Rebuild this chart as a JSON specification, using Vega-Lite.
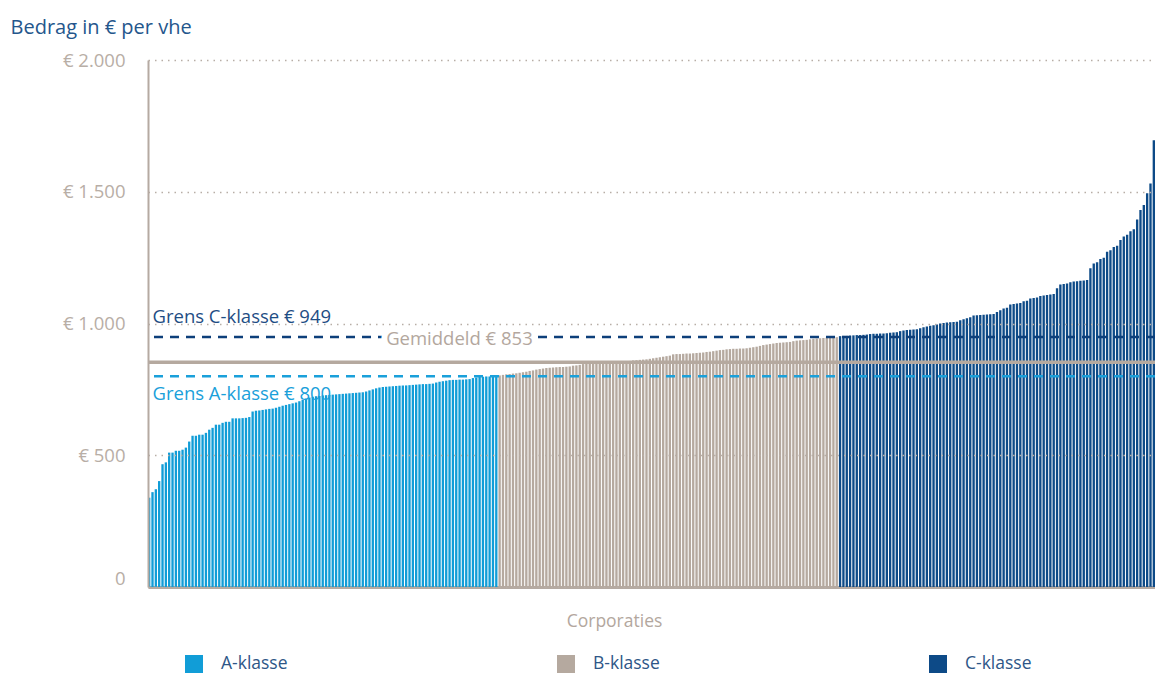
{
"$schema": "https://vega.github.io/schema/vega-lite/v6.json",
"autosize": "none",
"width": 1007,
"height": 527,
"padding": {"left": 148, "top": 60, "right": 0, "bottom": 86},
"background": "white",
"config": {"font": "Open Sans", "view": {"stroke": null}},
"datasets": {
"bars": [
{"c":0,"v":339,"k":"A-klasse"},{"c":1,"v":360,"k":"A-klasse"},{"c":2,"v":371,"k":"A-klasse"},{"c":3,"v":402,"k":"A-klasse"},{"c":4,"v":466,"k":"A-klasse"},{"c":5,"v":473,"k":"A-klasse"},{"c":6,"v":510,"k":"A-klasse"},{"c":7,"v":510,"k":"A-klasse"},{"c":8,"v":517,"k":"A-klasse"},{"c":9,"v":517,"k":"A-klasse"},
{"c":10,"v":521,"k":"A-klasse"},{"c":11,"v":529,"k":"A-klasse"},{"c":12,"v":552,"k":"A-klasse"},{"c":13,"v":574,"k":"A-klasse"},{"c":14,"v":574,"k":"A-klasse"},{"c":15,"v":578,"k":"A-klasse"},{"c":16,"v":578,"k":"A-klasse"},{"c":17,"v":585,"k":"A-klasse"},{"c":18,"v":597,"k":"A-klasse"},{"c":19,"v":604,"k":"A-klasse"},
{"c":20,"v":616,"k":"A-klasse"},{"c":21,"v":616,"k":"A-klasse"},{"c":22,"v":623,"k":"A-klasse"},{"c":23,"v":627,"k":"A-klasse"},{"c":24,"v":627,"k":"A-klasse"},{"c":25,"v":640,"k":"A-klasse"},{"c":26,"v":640,"k":"A-klasse"},{"c":27,"v":640,"k":"A-klasse"},{"c":28,"v":641,"k":"A-klasse"},{"c":29,"v":642,"k":"A-klasse"},
{"c":30,"v":645,"k":"A-klasse"},{"c":31,"v":666,"k":"A-klasse"},{"c":32,"v":669,"k":"A-klasse"},{"c":33,"v":670,"k":"A-klasse"},{"c":34,"v":672,"k":"A-klasse"},{"c":35,"v":674,"k":"A-klasse"},{"c":36,"v":676,"k":"A-klasse"},{"c":37,"v":677,"k":"A-klasse"},{"c":38,"v":680,"k":"A-klasse"},{"c":39,"v":684,"k":"A-klasse"},
{"c":40,"v":688,"k":"A-klasse"},{"c":41,"v":691,"k":"A-klasse"},{"c":42,"v":694,"k":"A-klasse"},{"c":43,"v":697,"k":"A-klasse"},{"c":44,"v":700,"k":"A-klasse"},{"c":45,"v":705,"k":"A-klasse"},{"c":46,"v":710,"k":"A-klasse"},{"c":47,"v":715,"k":"A-klasse"},{"c":48,"v":719,"k":"A-klasse"},{"c":49,"v":722,"k":"A-klasse"},
{"c":50,"v":724,"k":"A-klasse"},{"c":51,"v":725,"k":"A-klasse"},{"c":52,"v":727,"k":"A-klasse"},{"c":53,"v":728,"k":"A-klasse"},{"c":54,"v":729,"k":"A-klasse"},{"c":55,"v":730,"k":"A-klasse"},{"c":56,"v":731,"k":"A-klasse"},{"c":57,"v":732,"k":"A-klasse"},{"c":58,"v":733,"k":"A-klasse"},{"c":59,"v":734,"k":"A-klasse"},
{"c":60,"v":735,"k":"A-klasse"},{"c":61,"v":736,"k":"A-klasse"},{"c":62,"v":737,"k":"A-klasse"},{"c":63,"v":738,"k":"A-klasse"},{"c":64,"v":739,"k":"A-klasse"},{"c":65,"v":742,"k":"A-klasse"},{"c":66,"v":746,"k":"A-klasse"},{"c":67,"v":750,"k":"A-klasse"},{"c":68,"v":754,"k":"A-klasse"},{"c":69,"v":757,"k":"A-klasse"},
{"c":70,"v":759,"k":"A-klasse"},{"c":71,"v":760,"k":"A-klasse"},{"c":72,"v":761,"k":"A-klasse"},{"c":73,"v":762,"k":"A-klasse"},{"c":74,"v":763,"k":"A-klasse"},{"c":75,"v":764,"k":"A-klasse"},{"c":76,"v":765,"k":"A-klasse"},{"c":77,"v":765,"k":"A-klasse"},{"c":78,"v":766,"k":"A-klasse"},{"c":79,"v":767,"k":"A-klasse"},
{"c":80,"v":768,"k":"A-klasse"},{"c":81,"v":769,"k":"A-klasse"},{"c":82,"v":770,"k":"A-klasse"},{"c":83,"v":770,"k":"A-klasse"},{"c":84,"v":771,"k":"A-klasse"},{"c":85,"v":772,"k":"A-klasse"},{"c":86,"v":776,"k":"A-klasse"},{"c":87,"v":779,"k":"A-klasse"},{"c":88,"v":781,"k":"A-klasse"},{"c":89,"v":783,"k":"A-klasse"},
{"c":90,"v":785,"k":"A-klasse"},{"c":91,"v":786,"k":"A-klasse"},{"c":92,"v":786,"k":"A-klasse"},{"c":93,"v":787,"k":"A-klasse"},{"c":94,"v":787,"k":"A-klasse"},{"c":95,"v":788,"k":"A-klasse"},{"c":96,"v":789,"k":"A-klasse"},{"c":97,"v":793,"k":"A-klasse"},{"c":98,"v":795,"k":"A-klasse"},{"c":99,"v":797,"k":"A-klasse"},
{"c":100,"v":798,"k":"A-klasse"},{"c":101,"v":799,"k":"A-klasse"},{"c":102,"v":799,"k":"A-klasse"},{"c":103,"v":800,"k":"A-klasse"},{"c":104,"v":800,"k":"A-klasse"},
{"c":105,"v":803,"k":"B-klasse"},{"c":106,"v":805,"k":"B-klasse"},{"c":107,"v":807,"k":"B-klasse"},{"c":108,"v":808,"k":"B-klasse"},{"c":109,"v":810,"k":"B-klasse"},
{"c":110,"v":811,"k":"B-klasse"},{"c":111,"v":813,"k":"B-klasse"},{"c":112,"v":815,"k":"B-klasse"},{"c":113,"v":817,"k":"B-klasse"},{"c":114,"v":820,"k":"B-klasse"},{"c":115,"v":822,"k":"B-klasse"},{"c":116,"v":825,"k":"B-klasse"},{"c":117,"v":827,"k":"B-klasse"},{"c":118,"v":829,"k":"B-klasse"},{"c":119,"v":831,"k":"B-klasse"},
{"c":120,"v":832,"k":"B-klasse"},{"c":121,"v":833,"k":"B-klasse"},{"c":122,"v":834,"k":"B-klasse"},{"c":123,"v":835,"k":"B-klasse"},{"c":124,"v":835,"k":"B-klasse"},{"c":125,"v":836,"k":"B-klasse"},{"c":126,"v":837,"k":"B-klasse"},{"c":127,"v":840,"k":"B-klasse"},{"c":128,"v":841,"k":"B-klasse"},{"c":129,"v":843,"k":"B-klasse"},
{"c":130,"v":846,"k":"B-klasse"},{"c":131,"v":848,"k":"B-klasse"},{"c":132,"v":849,"k":"B-klasse"},{"c":133,"v":851,"k":"B-klasse"},{"c":134,"v":853,"k":"B-klasse"},{"c":135,"v":853,"k":"B-klasse"},{"c":136,"v":854,"k":"B-klasse"},{"c":137,"v":854,"k":"B-klasse"},{"c":138,"v":855,"k":"B-klasse"},{"c":139,"v":855,"k":"B-klasse"},
{"c":140,"v":856,"k":"B-klasse"},{"c":141,"v":856,"k":"B-klasse"},{"c":142,"v":857,"k":"B-klasse"},{"c":143,"v":857,"k":"B-klasse"},{"c":144,"v":858,"k":"B-klasse"},{"c":145,"v":860,"k":"B-klasse"},{"c":146,"v":861,"k":"B-klasse"},{"c":147,"v":862,"k":"B-klasse"},{"c":148,"v":863,"k":"B-klasse"},{"c":149,"v":864,"k":"B-klasse"},
{"c":150,"v":866,"k":"B-klasse"},{"c":151,"v":868,"k":"B-klasse"},{"c":152,"v":870,"k":"B-klasse"},{"c":153,"v":872,"k":"B-klasse"},{"c":154,"v":874,"k":"B-klasse"},{"c":155,"v":876,"k":"B-klasse"},{"c":156,"v":878,"k":"B-klasse"},{"c":157,"v":883,"k":"B-klasse"},{"c":158,"v":884,"k":"B-klasse"},{"c":159,"v":884,"k":"B-klasse"},
{"c":160,"v":885,"k":"B-klasse"},{"c":161,"v":886,"k":"B-klasse"},{"c":162,"v":886,"k":"B-klasse"},{"c":163,"v":887,"k":"B-klasse"},{"c":164,"v":888,"k":"B-klasse"},{"c":165,"v":889,"k":"B-klasse"},{"c":166,"v":890,"k":"B-klasse"},{"c":167,"v":892,"k":"B-klasse"},{"c":168,"v":893,"k":"B-klasse"},{"c":169,"v":895,"k":"B-klasse"},
{"c":170,"v":897,"k":"B-klasse"},{"c":171,"v":899,"k":"B-klasse"},{"c":172,"v":900,"k":"B-klasse"},{"c":173,"v":902,"k":"B-klasse"},{"c":174,"v":903,"k":"B-klasse"},{"c":175,"v":904,"k":"B-klasse"},{"c":176,"v":904,"k":"B-klasse"},{"c":177,"v":905,"k":"B-klasse"},{"c":178,"v":905,"k":"B-klasse"},{"c":179,"v":906,"k":"B-klasse"},
{"c":180,"v":908,"k":"B-klasse"},{"c":181,"v":910,"k":"B-klasse"},{"c":182,"v":912,"k":"B-klasse"},{"c":183,"v":915,"k":"B-klasse"},{"c":184,"v":918,"k":"B-klasse"},{"c":185,"v":920,"k":"B-klasse"},{"c":186,"v":922,"k":"B-klasse"},{"c":187,"v":924,"k":"B-klasse"},{"c":188,"v":926,"k":"B-klasse"},{"c":189,"v":927,"k":"B-klasse"},
{"c":190,"v":928,"k":"B-klasse"},{"c":191,"v":929,"k":"B-klasse"},{"c":192,"v":930,"k":"B-klasse"},{"c":193,"v":933,"k":"B-klasse"},{"c":194,"v":935,"k":"B-klasse"},{"c":195,"v":936,"k":"B-klasse"},{"c":196,"v":937,"k":"B-klasse"},{"c":197,"v":938,"k":"B-klasse"},{"c":198,"v":940,"k":"B-klasse"},{"c":199,"v":942,"k":"B-klasse"},
{"c":200,"v":943,"k":"B-klasse"},{"c":201,"v":944,"k":"B-klasse"},{"c":202,"v":945,"k":"B-klasse"},{"c":203,"v":946,"k":"B-klasse"},{"c":204,"v":946,"k":"B-klasse"},{"c":205,"v":947,"k":"B-klasse"},{"c":206,"v":948,"k":"B-klasse"},
{"c":207,"v":952,"k":"C-klasse"},{"c":208,"v":953,"k":"C-klasse"},{"c":209,"v":953,"k":"C-klasse"},
{"c":210,"v":954,"k":"C-klasse"},{"c":211,"v":955,"k":"C-klasse"},{"c":212,"v":956,"k":"C-klasse"},{"c":213,"v":956,"k":"C-klasse"},{"c":214,"v":957,"k":"C-klasse"},{"c":215,"v":958,"k":"C-klasse"},{"c":216,"v":960,"k":"C-klasse"},{"c":217,"v":961,"k":"C-klasse"},{"c":218,"v":961,"k":"C-klasse"},{"c":219,"v":962,"k":"C-klasse"},
{"c":220,"v":962,"k":"C-klasse"},{"c":221,"v":963,"k":"C-klasse"},{"c":222,"v":965,"k":"C-klasse"},{"c":223,"v":966,"k":"C-klasse"},{"c":224,"v":967,"k":"C-klasse"},{"c":225,"v":971,"k":"C-klasse"},{"c":226,"v":973,"k":"C-klasse"},{"c":227,"v":975,"k":"C-klasse"},{"c":228,"v":976,"k":"C-klasse"},{"c":229,"v":977,"k":"C-klasse"},
{"c":230,"v":978,"k":"C-klasse"},{"c":231,"v":982,"k":"C-klasse"},{"c":232,"v":986,"k":"C-klasse"},{"c":233,"v":989,"k":"C-klasse"},{"c":234,"v":991,"k":"C-klasse"},{"c":235,"v":993,"k":"C-klasse"},{"c":236,"v":996,"k":"C-klasse"},{"c":237,"v":1000,"k":"C-klasse"},{"c":238,"v":1002,"k":"C-klasse"},{"c":239,"v":1004,"k":"C-klasse"},
{"c":240,"v":1005,"k":"C-klasse"},{"c":241,"v":1006,"k":"C-klasse"},{"c":242,"v":1007,"k":"C-klasse"},{"c":243,"v":1012,"k":"C-klasse"},{"c":244,"v":1016,"k":"C-klasse"},{"c":245,"v":1020,"k":"C-klasse"},{"c":246,"v":1024,"k":"C-klasse"},{"c":247,"v":1030,"k":"C-klasse"},{"c":248,"v":1031,"k":"C-klasse"},{"c":249,"v":1032,"k":"C-klasse"},
{"c":250,"v":1033,"k":"C-klasse"},{"c":251,"v":1034,"k":"C-klasse"},{"c":252,"v":1035,"k":"C-klasse"},{"c":253,"v":1036,"k":"C-klasse"},{"c":254,"v":1044,"k":"C-klasse"},{"c":255,"v":1050,"k":"C-klasse"},{"c":256,"v":1057,"k":"C-klasse"},{"c":257,"v":1060,"k":"C-klasse"},{"c":258,"v":1072,"k":"C-klasse"},{"c":259,"v":1074,"k":"C-klasse"},
{"c":260,"v":1076,"k":"C-klasse"},{"c":261,"v":1078,"k":"C-klasse"},{"c":262,"v":1084,"k":"C-klasse"},{"c":263,"v":1086,"k":"C-klasse"},{"c":264,"v":1095,"k":"C-klasse"},{"c":265,"v":1097,"k":"C-klasse"},{"c":266,"v":1099,"k":"C-klasse"},{"c":267,"v":1104,"k":"C-klasse"},{"c":268,"v":1106,"k":"C-klasse"},{"c":269,"v":1108,"k":"C-klasse"},
{"c":270,"v":1110,"k":"C-klasse"},{"c":271,"v":1112,"k":"C-klasse"},{"c":272,"v":1134,"k":"C-klasse"},{"c":273,"v":1148,"k":"C-klasse"},{"c":274,"v":1150,"k":"C-klasse"},{"c":275,"v":1152,"k":"C-klasse"},{"c":276,"v":1157,"k":"C-klasse"},{"c":277,"v":1159,"k":"C-klasse"},{"c":278,"v":1160,"k":"C-klasse"},{"c":279,"v":1162,"k":"C-klasse"},
{"c":280,"v":1163,"k":"C-klasse"},{"c":281,"v":1165,"k":"C-klasse"},{"c":282,"v":1210,"k":"C-klasse"},{"c":283,"v":1228,"k":"C-klasse"},{"c":284,"v":1232,"k":"C-klasse"},{"c":285,"v":1245,"k":"C-klasse"},{"c":286,"v":1250,"k":"C-klasse"},{"c":287,"v":1272,"k":"C-klasse"},{"c":288,"v":1278,"k":"C-klasse"},{"c":289,"v":1290,"k":"C-klasse"},
{"c":290,"v":1295,"k":"C-klasse"},{"c":291,"v":1317,"k":"C-klasse"},{"c":292,"v":1330,"k":"C-klasse"},{"c":293,"v":1337,"k":"C-klasse"},{"c":294,"v":1350,"k":"C-klasse"},{"c":295,"v":1358,"k":"C-klasse"},{"c":296,"v":1395,"k":"C-klasse"},{"c":297,"v":1431,"k":"C-klasse"},{"c":298,"v":1450,"k":"C-klasse"},{"c":299,"v":1494,"k":"C-klasse"},
{"c":300,"v":1531,"k":"C-klasse"},{"c":301,"v":1695,"k":"C-klasse"}
]
},
"encoding": {
"y": {"field": "v", "type": "quantitative",
"scale": {"domain": [0, 2000], "nice": false},
"axis": {"values": [0, 500, 1000, 1500, 2000], "zindex": 1,
"labelExpr": "datum.value == 0 ? '0' : '€ ' + replace(format(datum.value, ','), ',', '.')",
"labelFontSize": 18.5, "labelFontWeight": "normal", "labelColor": "#b8aea6", "labelPadding": 23,
"labelOffset": {"condition": {"test": "datum.value == 0", "value": -9}, "value": 0},
"ticks": false, "domain": true, "domainColor": "#b5aaa2", "domainWidth": 2,
"grid": true, "gridColor": "#b8aea6", "gridDash": [1.5, 5], "gridWidth": 1.5,
"title": "Bedrag in € per vhe", "titleAngle": 0, "titleX": -138, "titleY": -33,
"titleAlign": "left", "titleBaseline": "middle", "titleFontSize": 20, "titleFontWeight": "normal", "titleColor": "#24568c"}}
},
"layer": [
{
"data": {"name": "bars"},
"mark": {"type": "bar"},
"encoding": {
"x": {"field": "c", "type": "ordinal", "sort": "ascending",
"scale": {"paddingInner": 0.3, "paddingOuter": 0},
"axis": {"labels": false, "ticks": false, "domain": true, "domainColor": "#b5aaa2", "domainWidth": 3,
"title": "Corporaties", "titleFontSize": 17.5, "titleFontWeight": "normal", "titleColor": "#b3a79e",
"titleX": 466, "titleY": 34, "titleBaseline": "middle", "titleAnchor": "start", "titleAlign": "center", "grid": false}},
"color": {"field": "k", "type": "nominal",
"scale": {"domain": ["A-klasse", "B-klasse", "C-klasse"], "range": ["#119dd7", "#b5a99f", "#0d4a87"]},
"legend": {"orient": "none", "legendX": 37, "legendY": 595, "direction": "horizontal", "title": null,
"symbolType": "square", "symbolSize": 324, "symbolStrokeWidth": 0, "symbolOpacity": 1,
"labelFontSize": 17.5, "labelFontWeight": "normal", "labelColor": "#2e5687", "labelOffset": 18,
"columnPadding": 269, "gridAlign": "all"}}
}
},
{
"data": {"values": [{"v": 853}]},
"mark": {"type": "rule", "color": "#b5a99f", "strokeWidth": 3.5}
},
{
"data": {"values": [{"v": 949}]},
"mark": {"type": "rule", "color": "#0d3f7a", "strokeWidth": 2.5, "strokeDash": [9, 7]}
},
{
"data": {"values": [{"v": 800}]},
"mark": {"type": "rule", "color": "#1aa0da", "strokeWidth": 2.5, "strokeDash": [9, 7]}
},
{
"data": {"values": [{"v": 853, "t": "Gemiddeld € 853"}]},
"mark": {"type": "text", "align": "left", "baseline": "middle", "dy": -23, "fontSize": 18.5, "color": "#b3a79e", "stroke": "white", "strokeWidth": 12, "strokeJoin": "round"},
"encoding": {"x": {"datum": 71, "type": "ordinal"}, "text": {"field": "t"}}
},
{
"data": {"values": [{"v": 853, "t": "Gemiddeld € 853"}]},
"mark": {"type": "text", "align": "left", "baseline": "middle", "dy": -23, "fontSize": 18.5, "color": "#b3a79e"},
"encoding": {"x": {"datum": 71, "type": "ordinal"}, "text": {"field": "t"}}
},
{
"data": {"values": [{"v": 949, "t": "Grens C-klasse € 949"}]},
"mark": {"type": "text", "align": "left", "baseline": "middle", "dy": -20, "fontSize": 18.5, "color": "#1e4d84"},
"encoding": {"x": {"datum": 1, "type": "ordinal"}, "text": {"field": "t"}}
},
{
"data": {"values": [{"v": 800, "t": "Grens A-klasse € 800"}]},
"mark": {"type": "text", "align": "left", "baseline": "middle", "dy": 18, "fontSize": 18.5, "color": "#1aa0da"},
"encoding": {"x": {"datum": 1, "type": "ordinal"}, "text": {"field": "t"}}
}
]
}
